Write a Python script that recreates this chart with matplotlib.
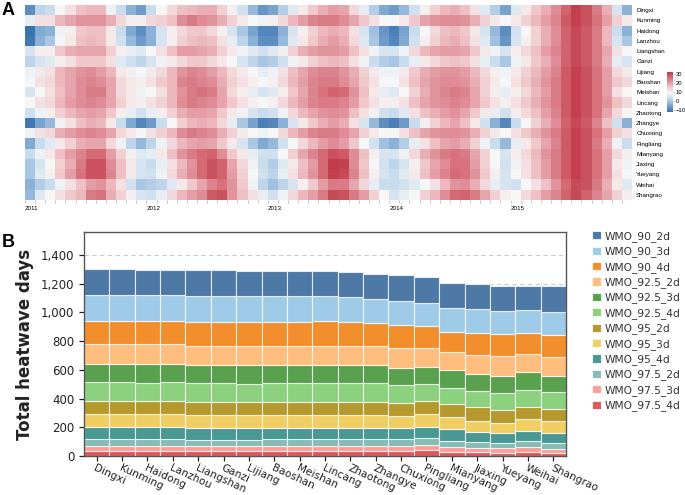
import numpy as np
import matplotlib.pyplot as plt
from matplotlib.colors import LinearSegmentedColormap

# ---------------- data ----------------
cities = ["Dingxi", "Kunming", "Haidong", "Lanzhou", "Liangshan", "Ganzi", "Lijiang",
          "Baoshan", "Meishan", "Lincang", "Zhaotong", "Zhangye", "Chuxiong", "Pingliang",
          "Mianyang", "Jiaxing", "Yueyang", "Weihai", "Shangrao"]
years = ["2011", "2012", "2013", "2014", "2015"]

# panel A: monthly values, Jan 2011 .. Dec 2015
heat_dingxi = [-8, 2, 3, 9, 12, 16, 17, 17, 8, 3, -3, -6,
               3, 9, 13, 16, 17, 18, 18, 14, 10, 4, -2, -7,
               -5, 1, 6, 11, 15, 18, 20, 19, 13, 7, 1, -4,
               -6, -2, 4, 10, 14, 17, 18, 16, 12, 6, 1, -5,
               6, 11, 15, 18, 22, 27, 31, 29, 24, 18, 5, -3]
heat_kunming = [7, 12, 12, 17, 19, 21, 21, 21, 18, 13, 10, 10,
                13, 14, 16, 22, 24, 22, 21, 18, 14, 11, 9, 8,
                10, 13, 17, 20, 23, 24, 24, 22, 19, 15, 12, 9,
                9, 11, 15, 19, 21, 22, 22, 21, 18, 14, 11, 9,
                11, 14, 17, 20, 23, 28, 31, 29, 25, 20, 14, 11]
heat_haidong = [-12, -4, -3, 8, 10, 15, 16, 16, 11, 3, -4, -8,
                -3, 5, 10, 13, 15, 15, 13, 10, 5, 0, -5, -9,
                -9, -3, 5, 10, 14, 17, 18, 17, 12, 5, -1, -7,
                -10, -5, 3, 9, 13, 16, 17, 15, 11, 5, -2, -8,
                4, 9, 14, 18, 22, 27, 30, 28, 24, 17, 3, -3]
heat_lanzhou = [-11, -3, 0, 9, 11, 16, 17, 16, 11, 4, -2, -6,
                -3, 5, 10, 14, 16, 17, 16, 12, 7, 2, -3, -8,
                -8, -2, 6, 11, 15, 18, 20, 18, 13, 6, 0, -6,
                -9, -4, 4, 10, 14, 17, 18, 16, 12, 6, -1, -7,
                5, 10, 14, 18, 22, 27, 30, 28, 24, 17, 5, 0]
heat_liangshan = [5, 10, 10, 15, 18, 19, 19, 19, 14, 10, 7, 6,
                  9, 12, 16, 20, 20, 19, 18, 14, 11, 8, 6, 4,
                  6, 10, 14, 18, 20, 21, 21, 20, 16, 12, 8, 5,
                  5, 8, 13, 17, 19, 20, 20, 19, 15, 11, 8, 5,
                  10, 13, 16, 20, 23, 27, 30, 28, 24, 19, 12, 9]
heat_ganzi = [2, 5, 6, 10, 12, 15, 15, 15, 12, 6, 4, 2,
              5, 8, 11, 13, 15, 15, 13, 11, 9, 5, 2, 0,
              1, 4, 8, 11, 14, 16, 17, 16, 12, 8, 3, 1,
              0, 3, 7, 11, 13, 15, 16, 15, 12, 7, 3, 0,
              8, 11, 15, 18, 22, 27, 30, 28, 24, 18, 7, 5]
heat_lijiang = [8, 11, 12, 17, 19, 21, 22, 20, 17, 11, 10, 9,
                11, 13, 17, 21, 23, 22, 20, 17, 13, 11, 9, 7,
                8, 12, 16, 19, 22, 23, 23, 21, 18, 14, 11, 8,
                8, 11, 15, 18, 20, 21, 21, 20, 17, 13, 10, 8,
                11, 14, 17, 20, 23, 28, 31, 29, 25, 20, 13, 11]
heat_baoshan = [9, 12, 13, 17, 19, 22, 23, 22, 19, 13, 11, 10,
                12, 15, 17, 23, 24, 23, 22, 18, 14, 12, 10, 9,
                10, 13, 17, 20, 23, 24, 24, 22, 19, 15, 12, 9,
                9, 12, 16, 19, 21, 22, 22, 21, 18, 14, 11, 9,
                12, 15, 18, 21, 24, 28, 31, 29, 25, 20, 15, 13]
heat_meishan = [5, 9, 12, 16, 19, 22, 24, 24, 19, 13, 11, 8,
                9, 12, 17, 21, 24, 25, 24, 19, 13, 10, 7, 5,
                6, 10, 15, 19, 23, 25, 27, 26, 21, 16, 11, 7,
                6, 9, 14, 18, 21, 23, 24, 23, 19, 14, 10, 7,
                10, 13, 17, 20, 24, 28, 31, 29, 25, 20, 12, 9]
heat_lincang = [9, 12, 13, 17, 20, 22, 23, 22, 19, 14, 11, 10,
                12, 14, 17, 22, 24, 23, 22, 19, 15, 12, 10, 9,
                10, 13, 17, 20, 23, 24, 24, 23, 20, 15, 12, 10,
                10, 12, 16, 19, 21, 22, 23, 22, 19, 15, 12, 10,
                12, 15, 18, 21, 24, 28, 31, 29, 25, 21, 16, 13]
heat_zhaotong = [4, 8, 10, 14, 17, 19, 20, 19, 15, 10, 7, 4,
                 7, 10, 14, 18, 20, 20, 19, 15, 11, 8, 5, 3,
                 4, 8, 13, 17, 19, 21, 22, 21, 16, 12, 8, 4,
                 3, 6, 12, 16, 18, 20, 21, 19, 15, 11, 7, 4,
                 10, 13, 16, 20, 23, 28, 31, 29, 25, 19, 13, 9]
heat_zhangye = [-11, -5, -2, 8, 12, 16, 18, 17, 11, 3, -4, -9,
                -6, 3, 9, 14, 17, 18, 17, 13, 7, 0, -5, -10,
                -9, -3, 5, 11, 15, 18, 20, 18, 12, 5, -2, -8,
                -10, -6, 3, 10, 14, 17, 19, 16, 11, 4, -3, -9,
                3, 9, 14, 18, 22, 27, 30, 28, 23, 16, 4, -3]
heat_chuxiong = [8, 12, 13, 18, 20, 22, 23, 22, 19, 13, 11, 9,
                 12, 14, 17, 22, 24, 23, 22, 18, 14, 11, 9, 8,
                 9, 13, 17, 20, 23, 24, 24, 22, 19, 14, 11, 9,
                 9, 12, 16, 19, 21, 22, 22, 21, 18, 14, 11, 9,
                 12, 15, 18, 21, 24, 28, 31, 29, 25, 20, 14, 12]
heat_pingliang = [-4, 3, 6, 11, 14, 18, 19, 19, 13, 8, 2, -2,
                  2, 8, 13, 17, 19, 20, 19, 15, 11, 5, 0, -4,
                  -2, 4, 9, 13, 17, 20, 22, 20, 15, 9, 4, -1,
                  -3, 1, 7, 12, 16, 19, 20, 18, 14, 8, 3, -2,
                  7, 11, 15, 19, 23, 28, 31, 29, 24, 18, 8, 3]
heat_mianyang = [3, 8, 11, 16, 20, 23, 26, 26, 20, 14, 10, 6,
                 7, 11, 16, 21, 24, 26, 27, 22, 15, 11, 7, 4,
                 4, 9, 14, 19, 23, 26, 29, 28, 22, 16, 10, 5,
                 5, 8, 13, 18, 21, 24, 25, 24, 19, 14, 9, 5,
                 10, 13, 17, 21, 24, 28, 31, 29, 25, 20, 13, 10]
heat_jiaxing = [0, 5, 9, 14, 18, 24, 29, 29, 22, 16, 11, 5,
                3, 7, 12, 17, 21, 26, 29, 27, 19, 13, 8, 3,
                1, 6, 11, 16, 20, 26, 32, 31, 22, 15, 9, 4,
                2, 5, 10, 15, 19, 22, 25, 25, 20, 14, 9, 4,
                8, 12, 16, 20, 24, 28, 31, 29, 25, 20, 11, 8]
heat_yueyang = [0, 6, 10, 15, 20, 25, 29, 29, 23, 16, 11, 5,
                4, 8, 13, 18, 22, 26, 29, 27, 20, 14, 9, 4,
                2, 7, 12, 17, 21, 26, 31, 30, 23, 16, 10, 5,
                3, 6, 11, 16, 20, 23, 26, 25, 21, 15, 10, 5,
                9, 12, 16, 20, 24, 28, 31, 29, 25, 20, 12, 9]
heat_weihai = [-3, 1, 3, 8, 12, 16, 20, 21, 17, 12, 4, 0,
               1, 2, 6, 11, 15, 19, 23, 25, 21, 15, 8, 2,
               -1, 2, 5, 10, 15, 20, 24, 24, 19, 13, 7, 3,
               3, 4, 6, 9, 12, 17, 21, 22, 18, 13, 7, 5,
               4, 9, 12, 16, 21, 26, 30, 29, 24, 18, 11, 6]
heat_shangrao = [-2, 6, 9, 12, 15, 17, 24, 25, 18, 14, 10, 5,
                 4, 7, 13, 17, 20, 22, 28, 29, 21, 16, 12, 7,
                 4, 8, 13, 17, 20, 24, 30, 29, 24, 20, 14, 9,
                 5, 7, 9, 14, 17, 22, 26, 27, 24, 19, 14, 10,
                 9, 13, 16, 20, 23, 27, 30, 27, 23, 19, 14, 10]

# panel B: heatwave days per definition and city
wmo_90_2d = [178, 177, 178, 178, 180, 180, 180, 179, 176, 175, 174, 172, 179, 179, 174, 174, 177, 168, 177]
wmo_90_3d = [179, 179, 177, 176, 177, 177, 177, 176, 176, 174, 174, 167, 167, 158, 163, 163, 162, 158, 165]
wmo_90_4d = [165, 165, 165, 164, 167, 169, 168, 168, 168, 168, 167, 163, 163, 153, 139, 155, 151, 148, 149]
wmo_92_5_2d = [137, 137, 137, 136, 135, 134, 134, 135, 135, 135, 135, 132, 137, 133, 128, 133, 137, 128, 137]
wmo_92_5_3d = [129, 129, 129, 130, 128, 127, 128, 127, 128, 129, 129, 127, 118, 122, 124, 116, 120, 123, 110]
wmo_92_5_4d = [132, 131, 131, 132, 128, 128, 127, 127, 127, 127, 128, 127, 123, 117, 113, 116, 120, 121, 118]
wmo_95_2d = [87, 89, 88, 89, 90, 90, 90, 90, 90, 91, 91, 92, 93, 90, 88, 93, 88, 83, 81]
wmo_95_3d = [93, 93, 92, 92, 92, 91, 92, 91, 91, 91, 92, 93, 86, 89, 88, 77, 74, 80, 84]
wmo_95_4d = [84, 82, 84, 84, 82, 82, 82, 82, 81, 81, 79, 77, 77, 81, 79, 69, 65, 69, 74]
wmo_97_5_2d = [46, 45, 46, 46, 45, 46, 45, 45, 45, 45, 46, 46, 46, 49, 42, 42, 39, 47, 41]
wmo_97_5_3d = [33, 34, 34, 33, 34, 33, 33, 34, 34, 34, 34, 35, 35, 32, 35, 32, 31, 30, 28]
wmo_97_5_4d = [37, 38, 36, 36, 35, 35, 35, 36, 37, 36, 35, 35, 35, 42, 30, 26, 23, 30, 19]

series_names = ["WMO_90_2d", "WMO_90_3d", "WMO_90_4d", "WMO_92.5_2d", "WMO_92.5_3d", "WMO_92.5_4d",
                "WMO_95_2d", "WMO_95_3d", "WMO_95_4d", "WMO_97.5_2d", "WMO_97.5_3d", "WMO_97.5_4d"]
series_vals = [wmo_90_2d, wmo_90_3d, wmo_90_4d, wmo_92_5_2d, wmo_92_5_3d, wmo_92_5_4d,
               wmo_95_2d, wmo_95_3d, wmo_95_4d, wmo_97_5_2d, wmo_97_5_3d, wmo_97_5_4d]
series_colors = ["#4e79a7", "#a0cbe8", "#f28e2b", "#ffbe7d", "#59a14f", "#8cd17d",
                 "#b6992d", "#f1ce63", "#499894", "#86bcb6", "#ff9d9a", "#e15759"]

heat = np.array([heat_dingxi, heat_kunming, heat_haidong, heat_lanzhou, heat_liangshan,
                 heat_ganzi, heat_lijiang, heat_baoshan, heat_meishan, heat_lincang,
                 heat_zhaotong, heat_zhangye, heat_chuxiong, heat_pingliang, heat_mianyang,
                 heat_jiaxing, heat_yueyang, heat_weihai, heat_shangrao])

W, H = 685, 495
fig = plt.figure(figsize=(W / 100, H / 100), dpi=100)

# ---------------- panel A ----------------
vmin, vmax = -12, 32
stops = [(-12, "#3a72ae"), (-4, "#82abd4"), (3, "#c9dcee"), (9, "#f7f7f7"),
         (15, "#f1c9cd"), (21, "#e2959e"), (27, "#d2636e"), (32, "#c13b49")]
cmap = LinearSegmentedColormap.from_list(
    "heat", [((v - vmin) / (vmax - vmin), c) for v, c in stops])

font_a = "Liberation Sans"
ax_a = fig.add_axes([25 / W, 1 - 200 / H, 607 / W, 195 / H])
n_months = heat.shape[1]
im = ax_a.imshow(heat, aspect="auto", cmap=cmap, vmin=vmin, vmax=vmax,
                 extent=(0, n_months, len(cities), 0), interpolation="nearest")
for s in ax_a.spines.values():
    s.set_visible(False)
ax_a.yaxis.tick_right()
ax_a.set_yticks(np.arange(len(cities)) + 0.5)
ax_a.set_yticklabels(cities, fontsize=4.5, family=font_a)
ax_a.tick_params(axis="y", length=0, pad=3)
ax_a.set_xticks(np.arange(len(years)) * 12)
ax_a.set_xticklabels(years, fontsize=4.5, family=font_a, ha="left")
ax_a.set_xticks(np.arange(n_months), minor=True)
ax_a.tick_params(axis="x", which="both", length=2.2, width=0.4, color="#999999", pad=2)

cax = fig.add_axes([667 / W, 1 - 112 / H, 6 / W, 40 / H])
cb = fig.colorbar(im, cax=cax, ticks=[30, 20, 10, 0, -10])
cb.outline.set_visible(False)
cax.tick_params(labelsize=4.2, length=1.2, width=0.4, color="#999999", pad=0.6)
for lab in cax.get_yticklabels():
    lab.set_family(font_a)

fig.text(2 / W, 1 - 2 / H, "A", fontsize=13, fontweight="bold", family=font_a, va="top")

# ---------------- panel B ----------------
ax_b = fig.add_axes([84 / W, 1 - 456 / H, 482 / W, 224 / H])
x = np.arange(len(cities))
bottom = np.zeros(len(cities))
bars = []
for name, vals, col in reversed(list(zip(series_names, series_vals, series_colors))):
    b = ax_b.bar(x, vals, width=1.0, bottom=bottom, color=col, edgecolor=(1, 1, 1, 0.75),
                 linewidth=0.8, label=name, zorder=2)
    bars.append(b)
    bottom += np.array(vals)

ax_b.set_xlim(-0.5, len(cities) - 0.5)
ax_b.set_ylim(0, 1560)
ax_b.set_yticks(np.arange(0, 1401, 200))
ax_b.set_yticklabels([f"{v:,}" for v in range(0, 1401, 200)])
ax_b.yaxis.grid(True, linestyle=(0, (4, 3)), color="#cccccc", linewidth=0.8, zorder=0)
ax_b.set_axisbelow(True)
ax_b.set_xticks(x)
ax_b.set_xticklabels(cities, rotation=-25, ha="left", rotation_mode="anchor")
ax_b.tick_params(axis="y", labelsize=8.5, colors="#222222", length=3.5, width=0.9)
ax_b.tick_params(axis="x", labelsize=7.6, colors="#222222", length=3.5, width=0.9, pad=1.5)
for s in ax_b.spines.values():
    s.set_color("#555555")
    s.set_linewidth(1.0)
ax_b.set_ylabel("Total heatwave days", fontsize=12, fontweight="bold", color="#222222", labelpad=5)

handles = bars[::-1]
fig.legend(handles, series_names, loc="upper left", bbox_to_anchor=(592 / W, 1 - 231 / H),
           frameon=False, fontsize=7.7, handlelength=0.8, handleheight=0.8,
           handletextpad=0.4, labelspacing=0.42, borderpad=0, borderaxespad=0,
           labelcolor="#333333")

fig.text(2 / W, 1 - 234 / H, "B", fontsize=13, fontweight="bold", family=font_a, va="top")

fig.savefig("out.png", dpi=100)
